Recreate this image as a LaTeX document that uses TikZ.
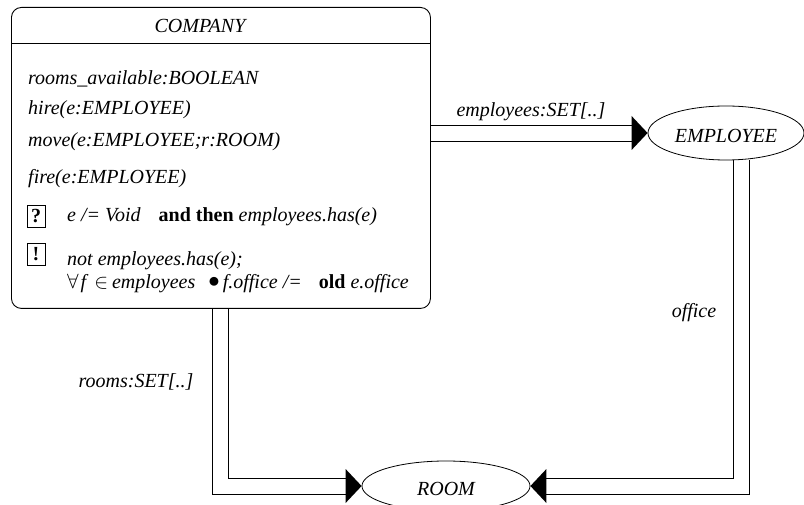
\documentclass[tikz,border=0pt]{standalone}
\usepackage{fontspec}
\usepackage{graphicx}
\usetikzlibrary{shapes.geometric,calc}
\setmainfont{Liberation Serif}
\begin{document}
\begin{tikzpicture}[x=1pt,y=-1pt,
  txt/.style={font=\fontsize{20}{23}\selectfont\itshape, inner sep=0pt, anchor=west},
  cls/.style={draw, ellipse, inner sep=0pt, line width=0.8pt},
  wire/.style={line width=0.9pt},
  markbox/.style={draw, line width=0.9pt, minimum width=18pt, minimum height=22pt, inner sep=0pt, font=\fontsize{20}{24}\selectfont\bfseries}
]
\useasboundingbox (0,0) rectangle (804,505);
% class box
\node[draw, rounded corners=10pt, line width=0.9pt, minimum width=419pt, minimum height=301pt, anchor=north west, inner sep=0pt] (company) at (11,7) {};
\draw[line width=0.9pt] (11,43) -- (430,43);
\node[txt, anchor=center] (cname) at (200,26) {COMPANY};
\node[txt] (f1) at (28,79) {rooms\_available:BOOLEAN};
\node[txt] (f2) at (28,110) {hire(e:EMPLOYEE)};
\node[txt] (f3) at (28,142) {move(e:EMPLOYEE;r:ROOM)};
\node[txt] (f4) at (28,179) {fire(e:EMPLOYEE)};
\node[markbox] (qbox) at (36,216) {?};
\node[txt] (pre) at (67,217) {e /= Void\hspace{0.9em}{\upshape\bfseries and then} employees.has(e)};
\node[markbox] (ebox) at (36,254) {!};
\node[txt, anchor=north west, align=left] (post) at (67,251) {not employees.has(e);\\
  $\forall$\hspace{2pt}f\hspace{8pt}$\in$\hspace{4pt}employees\hspace{13pt}\raisebox{0.02em}{\scalebox{1.1}{$\bullet$}}\hspace{3pt}f.office /=\hspace{17pt}{\upshape\bfseries old}\hspace{5pt}e.office};

% other classes
\node[cls, minimum width=156pt, minimum height=54pt] (employee) at (726,133) {};
\node[txt, anchor=center] (empname) at (726,136) {EMPLOYEE};
\node[cls, minimum width=168pt, minimum height=50pt] (room) at (446,486) {};
\node[txt, anchor=center] (roomname) at (446,489) {ROOM};

% connectors (double lines drawn as two strokes)
\coordinate (ex) at (741,0);
\coordinate (rx) at (220,0);
% company -> employee
\draw[wire] ($(company.east |- employee.west)+(0,-8)$) -- ($(employee.west)+(-16,-8)$);
\draw[wire] ($(company.east |- employee.west)+(0,8)$) -- ($(employee.west)+(-16,8)$);
\fill (employee.west) -- ++(-16,-17) -- ++(0,34) -- cycle;
% company -> room
\draw[wire] ($(company.south -| rx)+(-8,0)$) |- ($(room.west)+(-16,8)$);
\draw[wire] ($(company.south -| rx)+(8,0)$) |- ($(room.west)+(-16,-8)$);
\fill (room.west) -- ++(-16,-17) -- ++(0,34) -- cycle;
% employee -> room
\draw[wire] ($(employee.south -| ex)+(-8,0)$) |- ($(room.east)+(16,-8)$);
\draw[wire] ($(employee.south -| ex)+(8,-0.5)$) |- ($(room.east)+(16,8)$);
\fill (room.east) -- ++(16,-17) -- ++(0,34) -- cycle;

% labels
\node[txt, anchor=center] (lemp) at (531,112) {employees:SET[..]};
\node[txt, anchor=center] (lrooms) at (136,382) {rooms:SET[..]};
\node[txt, anchor=center] (loffice) at (694,313) {office};
\end{tikzpicture}
\end{document}
